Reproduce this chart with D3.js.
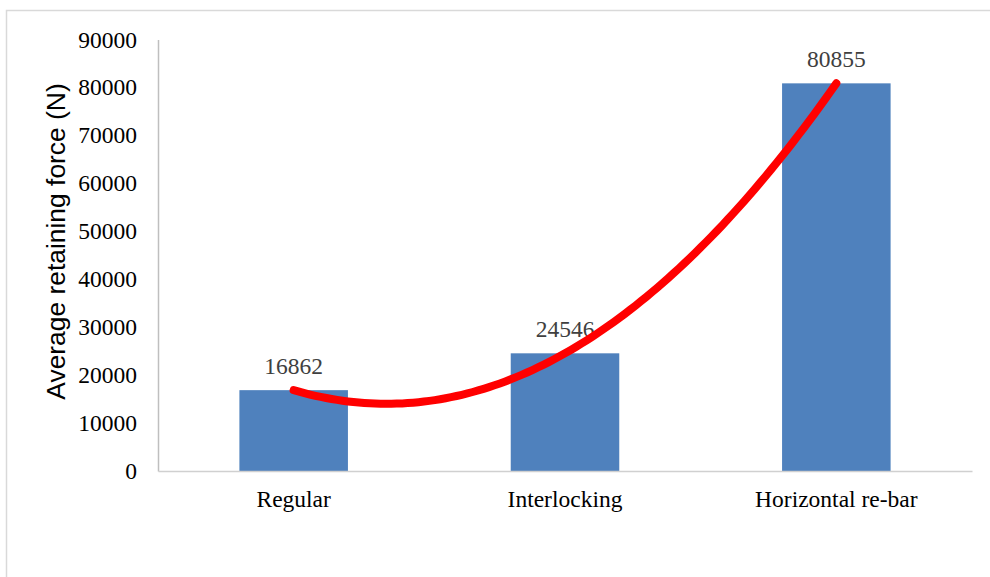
<!DOCTYPE html>
<html>
<head>
<meta charset="utf-8">
<script src="https://cdn.jsdelivr.net/npm/d3@7"></script>
<style>
  html, body { margin: 0; padding: 0; background: #fff; }
  svg { display: block; }
</style>
</head>
<body>
<svg id="chart" width="990" height="577"></svg>
<script>
const categories = ["Regular", "Interlocking", "Horizontal re-bar"];
const values = [16862, 24546, 80855];
const yTicks = [0, 10000, 20000, 30000, 40000, 50000, 60000, 70000, 80000, 90000];
const yTitle = "Average retaining force (N)";

const svg = d3.select("#chart");
const W = 990, H = 577;
const plot = { left: 158, right: 972, top: 39.5, bottom: 471 };
const serif = "'Liberation Serif', 'Times New Roman', serif";

// outer chart border
svg.append("rect")
  .attr("x", 6.5).attr("y", 10.5)
  .attr("width", W + 20).attr("height", H + 20)
  .attr("fill", "none").attr("stroke", "#d9d9d9").attr("stroke-width", 1.5);

const x = d3.scaleBand().domain(categories).range([plot.left, plot.right]).padding(0);
const y = d3.scaleLinear().domain([0, 90000]).range([plot.bottom, plot.top]);
const barW = x.bandwidth() * 0.4;

// y axis
const yAxis = d3.axisLeft(y).tickValues(yTicks).tickSize(0).tickPadding(21).tickFormat(d3.format("d"));
const gy = svg.append("g").attr("transform", `translate(${plot.left},0)`).call(yAxis);
gy.select(".domain").attr("stroke", "#bfbfbf").attr("stroke-width", 1.5);
gy.selectAll("text")
  .attr("font-family", serif)
  .attr("font-size", "23.5px").attr("fill", "#000");

// bars
svg.append("g").selectAll("rect").data(values).join("rect")
  .attr("x", (d, i) => x(categories[i]) + (x.bandwidth() - barW) / 2)
  .attr("y", d => y(d))
  .attr("width", barW)
  .attr("height", d => y(0) - y(d))
  .attr("fill", "#4f81bd");

// x axis
const xAxis = d3.axisBottom(x).tickSize(0).tickPadding(19);
const gx = svg.append("g").attr("transform", `translate(0,${plot.bottom})`).call(xAxis);
gx.select(".domain").attr("stroke", "#d0d0d0").attr("stroke-width", 1.5);
gx.selectAll("text")
  .attr("font-family", serif)
  .attr("font-size", "23.5px").attr("fill", "#000");

// data labels
svg.append("g").selectAll("text").data(values).join("text")
  .attr("x", (d, i) => x(categories[i]) + x.bandwidth() / 2)
  .attr("y", d => y(d) - 16)
  .attr("text-anchor", "middle")
  .attr("font-family", serif)
  .attr("font-size", "23.5px").attr("fill", "#404040")
  .text(d => d);

// polynomial (order 2) trendline fitted to bar values
const xs = values.map((d, i) => i + 1);
function polyFit(px, py) {
  const n = px.length;
  const S = k => d3.sum(px, v => Math.pow(v, k));
  const T = k => d3.sum(px.map((v, i) => py[i] * Math.pow(v, k)));
  const A = [[n, S(1), S(2)], [S(1), S(2), S(3)], [S(2), S(3), S(4)]];
  const B = [T(0), T(1), T(2)];
  for (let i = 0; i < 3; i++) {
    for (let j = i + 1; j < 3; j++) {
      const f = A[j][i] / A[i][i];
      for (let k = i; k < 3; k++) A[j][k] -= f * A[i][k];
      B[j] -= f * B[i];
    }
  }
  const c = [0, 0, 0];
  for (let i = 2; i >= 0; i--) {
    let s = B[i];
    for (let k = i + 1; k < 3; k++) s -= A[i][k] * c[k];
    c[i] = s / A[i][i];
  }
  return t => c[0] + c[1] * t + c[2] * t * t;
}
const f = polyFit(xs, values);
const xc = d3.scaleLinear().domain([1, 3])
  .range([x(categories[0]) + x.bandwidth() / 2, x(categories[2]) + x.bandwidth() / 2]);
const samples = d3.range(0, 101).map(i => 1 + i * 2 / 100);
svg.append("path")
  .datum(samples)
  .attr("d", d3.line().x(t => xc(t)).y(t => y(f(t))))
  .attr("fill", "none").attr("stroke", "#ff0000")
  .attr("stroke-width", 8).attr("stroke-linecap", "round");

// y title
svg.append("text")
  .attr("transform", `translate(65,241.5) rotate(-90)`)
  .attr("text-anchor", "middle")
  .attr("font-family", "'Liberation Sans', Arial, sans-serif")
  .attr("font-size", "26.4px").attr("fill", "#000")
  .text(yTitle);
</script>
</body>
</html>
